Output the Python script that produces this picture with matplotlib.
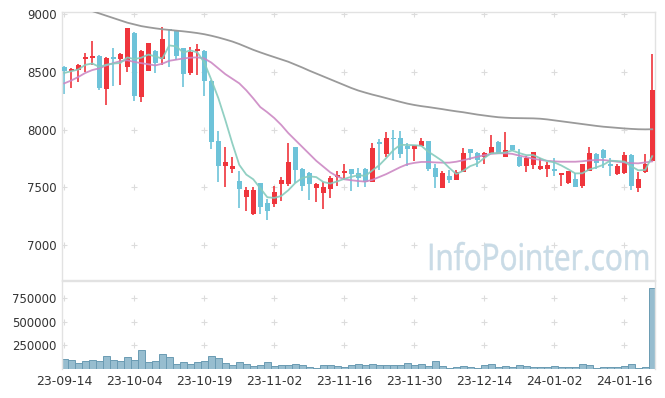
import numpy as np
import matplotlib
matplotlib.use('Agg')
import matplotlib.pyplot as plt
from matplotlib.textpath import TextPath
from matplotlib.patches import PathPatch
from matplotlib.font_manager import FontProperties
from matplotlib.transforms import Affine2D, IdentityTransform

# daily OHLC (KRW)
open_ = [8544, 8507, 8516, 8613, 8622, 8637, 8349, 8622, 8613, 8539,
         8838, 8285, 8510, 8680, 8608, 8868, 8856, 8703, 8492, 8680,
         8680, 8423, 7901, 7685, 7659, 7558, 7420, 7270, 7536, 7363,
         7354, 7530, 7527, 7847, 7662, 7622, 7495, 7454, 7489, 7593,
         7627, 7656, 7622, 7656, 7549, 7887, 7786, 7930, 7925, 7858,
         7832, 7861, 7901, 7665, 7498, 7599, 7564, 7636, 7829, 7800,
         7766, 7800, 7893, 7766, 7867, 7766, 7688, 7691, 7656, 7662,
         7662, 7605, 7536, 7573, 7515, 7644, 7789, 7824, 7700, 7616,
         7627, 7780, 7498, 7631, 7731]
high = [8552, 8530, 8565, 8660, 8766, 8645, 8625, 8703, 8660, 8880,
        8847, 8690, 8750, 8690, 8885, 8870, 8860, 8710, 8712, 8738,
        8685, 8430, 7991, 7847, 7766, 7644, 7507, 7507, 7540, 7397,
        7512, 7593, 7887, 7850, 7670, 7630, 7541, 7549, 7595, 7644,
        7702, 7660, 7665, 7665, 7881, 7916, 7982, 7997, 7991, 7881,
        7870, 7925, 7905, 7700, 7640, 7651, 7650, 7838, 7835, 7810,
        7810, 7953, 7900, 7977, 7870, 7829, 7770, 7810, 7757, 7720,
        7752, 7625, 7645, 7622, 7705, 7852, 7795, 7828, 7752, 7700,
        7809, 7785, 7631, 7789, 8654]
low = [8308, 8357, 8409, 8501, 8559, 8343, 8213, 8377, 8383, 8501,
       8250, 8239, 8505, 8487, 8559, 8544, 8602, 8366, 8472, 8472,
       8291, 7830, 7549, 7501, 7622, 7319, 7299, 7265, 7270, 7218,
       7333, 7385, 7512, 7541, 7472, 7391, 7376, 7311, 7405, 7512,
       7564, 7470, 7501, 7501, 7545, 7651, 7766, 7737, 7752, 7685,
       7728, 7855, 7640, 7492, 7495, 7540, 7560, 7630, 7737, 7674,
       7702, 7795, 7790, 7760, 7815, 7680, 7631, 7660, 7650, 7593,
       7599, 7512, 7530, 7500, 7492, 7640, 7656, 7670, 7599, 7610,
       7620, 7478, 7463, 7625, 7725]
close = [8510, 8524, 8559, 8628, 8637, 8363, 8617, 8611, 8654, 8876,
         8291, 8680, 8746, 8574, 8781, 8860, 8639, 8478, 8669, 8697,
         8423, 7895, 7685, 7720, 7685, 7489, 7478, 7478, 7333, 7299,
         7458, 7564, 7720, 7651, 7515, 7530, 7530, 7507, 7584, 7607,
         7644, 7613, 7584, 7549, 7838, 7876, 7925, 7916, 7786, 7832,
         7867, 7901, 7659, 7593, 7627, 7564, 7636, 7800, 7795, 7737,
         7800, 7847, 7800, 7824, 7824, 7688, 7757, 7806, 7685, 7697,
         7639, 7622, 7642, 7507, 7702, 7800, 7714, 7752, 7685, 7688,
         7780, 7512, 7573, 7702, 8343]

# moving averages as drawn on the chart
ma5 = [8490, 8505, 8520, 8560, 8572, 8542, 8561, 8571, 8576, 8624,
       8610, 8622, 8649, 8633, 8614, 8728, 8720, 8666, 8685, 8669,
       8581, 8432, 8274, 8084, 7882, 7695, 7611, 7570, 7493, 7415,
       7409, 7426, 7475, 7538, 7582, 7596, 7589, 7547, 7533, 7552,
       7574, 7591, 7606, 7599, 7646, 7692, 7754, 7821, 7868, 7867,
       7865, 7860, 7809, 7770, 7729, 7669, 7616, 7644, 7684, 7706,
       7754, 7796, 7796, 7802, 7819, 7797, 7779, 7780, 7752, 7727,
       7717, 7690, 7657, 7621, 7622, 7655, 7673, 7695, 7731, 7728,
       7724, 7683, 7648, 7651, 7770]
ma20 = [8400, 8425, 8455, 8490, 8515, 8530, 8555, 8575, 8592, 8600,
        8585, 8575, 8565, 8555, 8570, 8595, 8605, 8615, 8622, 8625,
        8615, 8580, 8530, 8480, 8440, 8400, 8340, 8270, 8195, 8150,
        8100, 8040, 7970, 7910, 7850, 7790, 7730, 7680, 7630, 7595,
        7570, 7562, 7555, 7550, 7565, 7590, 7615, 7645, 7675, 7700,
        7712, 7720, 7720, 7716, 7714, 7714, 7722, 7735, 7750, 7765,
        7778, 7790, 7795, 7795, 7790, 7775, 7762, 7748, 7738, 7730,
        7725, 7722, 7722, 7722, 7726, 7733, 7737, 7737, 7730, 7722,
        7716, 7710, 7708, 7716, 7725]
ma60 = [9090, 9075, 9060, 9045, 9025, 9005, 8985, 8965, 8945, 8925,
        8910, 8895, 8885, 8876, 8868, 8862, 8856, 8850, 8843, 8835,
        8825, 8812, 8797, 8780, 8762, 8740, 8715, 8690, 8668, 8647,
        8627, 8607, 8587, 8562, 8537, 8510, 8485, 8460, 8435, 8410,
        8385, 8360, 8338, 8320, 8303, 8288, 8272, 8256, 8240, 8225,
        8213, 8203, 8195, 8186, 8177, 8167, 8158, 8150, 8140, 8130,
        8122, 8114, 8107, 8103, 8100, 8099, 8098, 8097, 8094, 8088,
        8080, 8072, 8064, 8056, 8048, 8040, 8032, 8025, 8020, 8015,
        8010, 8006, 8003, 8002, 8003]

volume = [102000, 95000, 60000, 84000, 95000, 84000, 134000, 95000, 84000, 123000,
          95000, 200000, 70000, 81000, 155000, 123000, 53000, 74000, 53000, 74000,
          84000, 134000, 113000, 60000, 39000, 70000, 49000, 28000, 39000, 70000,
          28000, 39000, 39000, 49000, 39000, 18000, 7000, 39000, 39000, 28000,
          18000, 39000, 49000, 39000, 49000, 39000, 39000, 39000, 39000, 60000,
          39000, 49000, 28000, 81000, 28000, 7000, 18000, 28000, 18000, 7000,
          39000, 49000, 18000, 28000, 18000, 39000, 28000, 18000, 18000, 18000,
          28000, 18000, 18000, 18000, 49000, 39000, 7000, 18000, 18000, 18000,
          28000, 49000, 7000, 18000, 851000]

date_labels = ['23-09-14', '23-10-04', '23-10-19', '23-11-02', '23-11-16',
               '23-11-30', '23-12-14', '24-01-02', '24-01-16']
price_ticks = [7000, 7500, 8000, 8500, 9000]
volume_ticks = [250000, 500000, 750000]

RED = '#ef353c'
BLUE = '#6ec3d9'
GRID = '#dcdcdc'
SPINE = '#e2e2e2'
TEXT = '#333333'


def style_axis(ax, yticks):
    for side in ['left', 'right', 'top', 'bottom']:
        ax.spines[side].set_color(SPINE)
        ax.spines[side].set_linewidth(1.0)
    ax.set_yticks(yticks)
    ax.tick_params(length=0, pad=4, labelsize=8.5, colors=TEXT)
    # little "+" markers where grid lines would cross
    xs = np.arange(0, len(close), 10)
    gx, gy = np.meshgrid(xs, yticks)
    ax.plot(gx.ravel(), gy.ravel(), '+', ms=4, mew=0.8, color=GRID, zorder=0)


def add_watermark(fig, text, left, right, baseline, height):
    # watermark squeezed into a pixel box (origin bottom-left)
    path = TextPath((0, 0), text, size=1, prop=FontProperties(family=['Open Sans', 'DejaVu Sans']))
    ext = path.get_extents()
    sx = (right - left) / ext.width
    sy = height / ext.y1
    tr = Affine2D().translate(-ext.x0, 0).scale(sx, sy).translate(left, baseline)
    patch = PathPatch(tr.transform_path(path), facecolor='#c9dbe6', edgecolor='#c9dbe6',
                      linewidth=0.4, transform=IdentityTransform(), zorder=1)
    fig.patches.append(patch)


def main():
    fig = plt.figure(figsize=(6.65, 3.98), dpi=100)
    ax1 = fig.add_axes([0.0932, 0.2965, 0.8917, 0.6733])
    ax2 = fig.add_axes([0.0932, 0.0729, 0.8917, 0.2211], sharex=ax1)

    x = np.arange(len(close))
    o = np.array(open_)
    c = np.array(close)
    colors = np.where(c >= o, RED, BLUE)

    # candles
    ax1.vlines(x, low, high, colors=colors, linewidth=1.2, zorder=2)
    body_bottom = np.minimum(o, c)
    body_height = np.maximum(np.abs(c - o), 14)
    ax1.bar(x, body_height, bottom=body_bottom, width=0.72, color=colors,
            linewidth=0, zorder=3)

    # moving averages
    ax1.plot(x, ma60, color='#9a9a9a', linewidth=1.3, zorder=4)
    ax1.plot(x, ma20, color='#cc88c4', linewidth=1.3, alpha=0.9, zorder=4)
    ax1.plot(x, ma5, color='#86cbbd', linewidth=1.3, alpha=0.9, zorder=5)

    ax1.set_ylim(6699, 9017)
    ax1.set_xlim(-0.33, 84.39)
    style_axis(ax1, price_ticks)
    ax1.tick_params(axis='x', labelbottom=False)

    add_watermark(fig, 'InfoPointer.com', left=430, right=648, baseline=128, height=28)

    # volume
    ax2.bar(x, volume, width=1.0, color='#97bdcf', edgecolor='#6b9bb3',
            linewidth=0.7, zorder=2)
    ax2.set_ylim(0, 928000)
    style_axis(ax2, volume_ticks)
    ax2.set_xticks(np.arange(0, len(close), 10))
    ax2.set_xticklabels(date_labels)
    ax2.spines['bottom'].set_visible(False)
    ax2.tick_params(axis='x', labelsize=9)

    fig.savefig('out.png', dpi=100)


if __name__ == "__main__":
    main()
